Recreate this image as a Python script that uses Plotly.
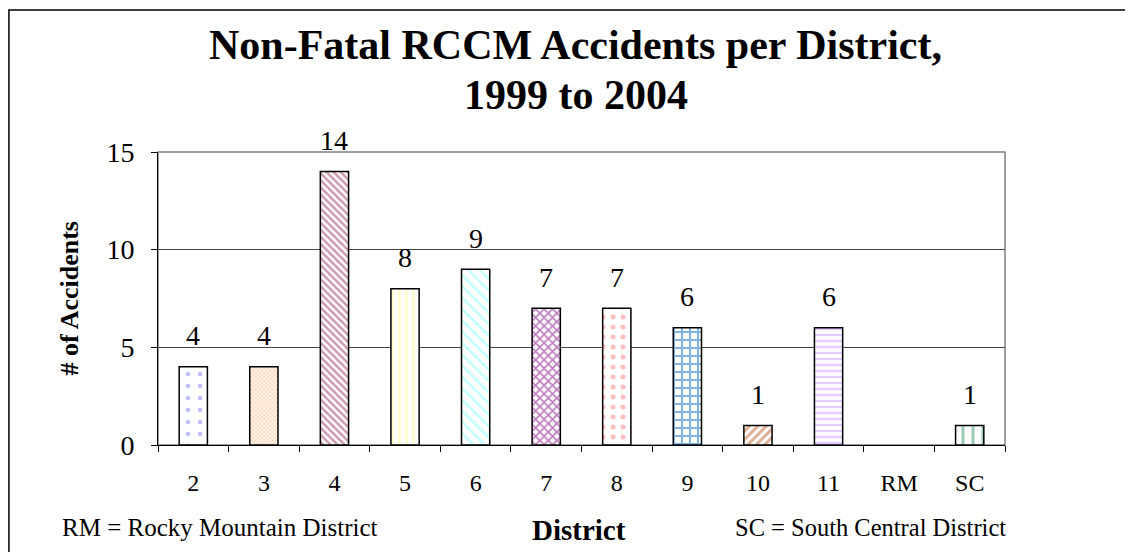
import plotly.graph_objects as go

# Data
districts = ["2", "3", "4", "5", "6", "7", "8", "9", "10", "11", "RM", "SC"]
accidents = [4, 4, 14, 8, 9, 7, 7, 6, 1, 6, 0, 1]
labels = ["4", "4", "14", "8", "9", "7", "7", "6", "1", "6", "", "1"]

# Excel-like fill patterns per bar
pattern_shapes = [".", "x", "\\", "|", "\\", "x", ".", "+", "/", "-", "", "|"]
pattern_colors = ["#8080ff", "#ffb27a", "#993366", "#ffff80", "#80ffff", "#800080",
                  "#ff8080", "#0066cc", "#c0602a", "#cc99ff", "#ffffff", "#339966"]
pattern_sizes = [12, 3, 5, 7, 8, 6, 10, 8, 6, 6, 6, 10]
pattern_solid = [0.12, 0.6, 0.5, 0.3, 0.3, 0.5, 0.2, 0.45, 0.5, 0.4, 0.3, 0.3]
# no outline for the empty RM bar
outline_widths = [1.5] * 10 + [0, 1.5]

SERIF = "Liberation Serif"

fig = go.Figure(go.Bar(
    x=districts,
    y=accidents,
    marker=dict(
        color="white",
        line=dict(color="black", width=outline_widths),
        pattern=dict(shape=pattern_shapes, fgcolor=pattern_colors,
                     size=pattern_sizes, solidity=pattern_solid, bgcolor="white"),
    ),
    hoverinfo="x+y",
))

# value labels above the bars (x given as category index)
for i, (v, t) in enumerate(zip(accidents, labels)):
    if t:
        fig.add_annotation(x=i, y=v, text=t, showarrow=False, yanchor="middle",
                           xanchor="center", yshift=31,
                           font=dict(family=SERIF, size=28, color="black"))

# title, two lines
fig.add_annotation(text="<b>Non-Fatal RCCM Accidents per District,</b>",
                   xref="paper", yref="paper", x=0.4935, y=1.364, showarrow=False,
                   xanchor="center", yanchor="middle",
                   font=dict(family=SERIF, size=42, color="black"))
fig.add_annotation(text="<b>1999 to 2004</b>",
                   xref="paper", yref="paper", x=0.4935, y=1.193, showarrow=False,
                   xanchor="center", yanchor="middle",
                   font=dict(family=SERIF, size=42, color="black"))

# axis titles and notes
fig.add_annotation(text="<b># of Accidents</b>", textangle=-90,
                   xref="paper", yref="paper", x=-0.105, y=0.5, showarrow=False,
                   xanchor="center", yanchor="middle",
                   font=dict(family=SERIF, size=26, color="black"))
fig.add_annotation(text="<b>District</b>", xref="paper", yref="paper",
                   x=0.497, y=-0.29, showarrow=False, xanchor="center", yanchor="middle",
                   font=dict(family=SERIF, size=29, color="black"))
fig.add_annotation(text="RM = Rocky Mountain District", xref="paper", yref="paper",
                   x=-0.1157, y=-0.28, xanchor="left", yanchor="middle", showarrow=False,
                   font=dict(family=SERIF, size=25, color="black"))
fig.add_annotation(text="SC = South Central District", xref="paper", yref="paper",
                   x=0.679, y=-0.28, xanchor="left", yanchor="middle", showarrow=False,
                   font=dict(family=SERIF, size=24.5, color="black"))

# plot area frame (gray) and outer chart border (black)
fig.add_shape(type="rect", xref="paper", yref="paper", x0=0, y0=0, x1=1, y1=1,
              line=dict(color="#808080", width=1.5), layer="below")
fig.add_shape(type="rect", xref="paper", yref="paper", x0=-0.176, y0=-0.45,
              x1=1.2, y1=1.485, line=dict(color="black", width=1.5))

fig.update_layout(
    width=1133, height=552,
    margin=dict(l=150, r=136, t=144, b=115),
    paper_bgcolor="white", plot_bgcolor="white",
    bargap=0.6, showlegend=False,
    font=dict(family=SERIF, color="black"),
)
fig.update_xaxes(
    type="category", showline=True, linecolor="black", linewidth=1,
    ticks="outside", tickson="boundaries", ticklen=6, tickcolor="black",
    tickfont=dict(family=SERIF, size=24), ticklabelstandoff=16,
    showgrid=False,
)
fig.update_yaxes(
    range=[0, 15], tickvals=[0, 5, 10, 15], showline=True, linecolor="black",
    linewidth=1, ticks="outside", ticklen=6, tickcolor="black",
    tickfont=dict(family=SERIF, size=28), ticklabelstandoff=11,
    showgrid=True, gridcolor="#444444", gridwidth=1, zeroline=False,
)

fig.write_html("out.html")
